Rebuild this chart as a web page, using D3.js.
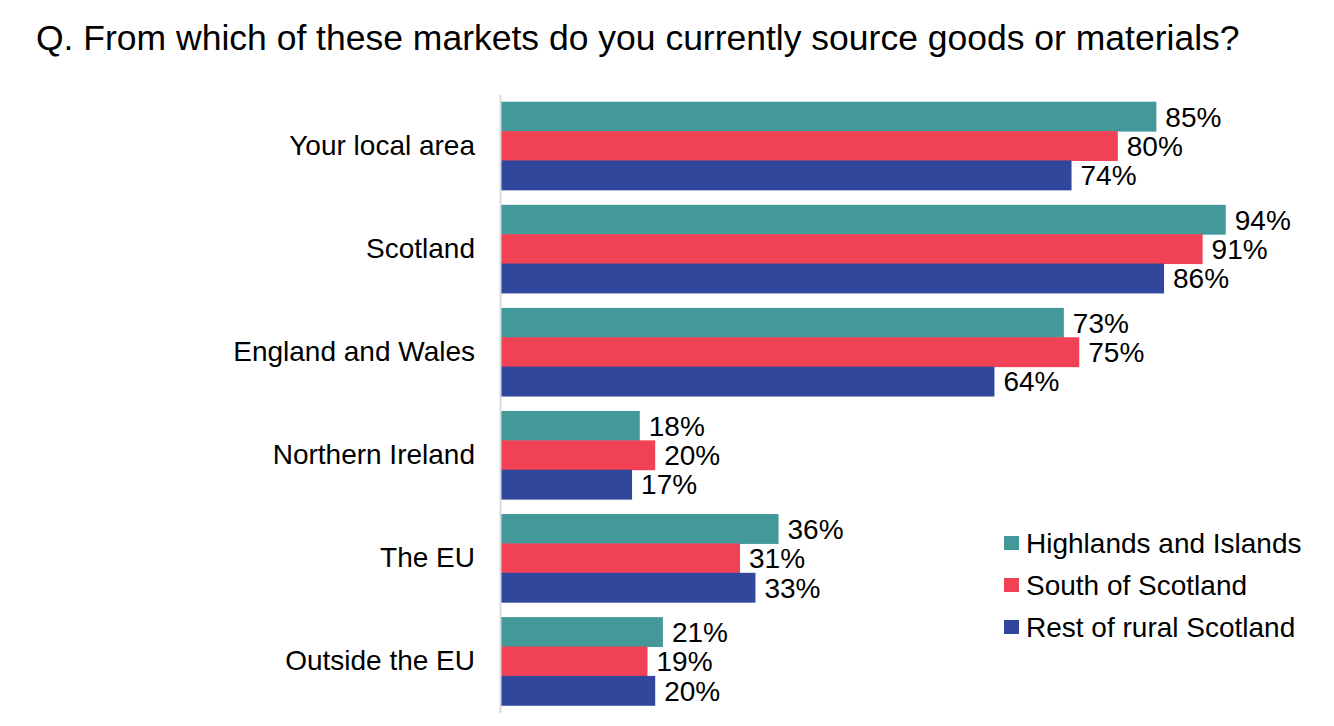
<html>
<head>
<script src="https://d3js.org/d3.v7.min.js"></script>
<style>
  body { margin: 0; background: #fff; }
  text { font-family: "Liberation Sans", Arial, sans-serif; fill: #000; }
</style>
</head>
<body>
<svg width="1334" height="726"></svg>
<script>
// chart data
const categories = ["Your local area", "Scotland", "England and Wales", "Northern Ireland", "The EU", "Outside the EU"];
const seriesNames = ["Highlands and Islands", "South of Scotland", "Rest of rural Scotland"];
const highlands = [85, 94, 73, 18, 36, 21];
const south = [80, 91, 75, 20, 31, 19];
const restRural = [74, 86, 64, 17, 33, 20];
const colours = ["#43999a", "#f04155", "#31479c"];

const seriesValues = [highlands, south, restRural];
const svg = d3.select("svg");

svg.append("text").attr("x", 36).attr("y", 50)
   .style("font-size", "35.5px")
   .text("Q. From which of these markets do you currently source goods or materials?");

const x = d3.scaleLinear().domain([0, 100]).range([501, 1272]);
const y = d3.scaleBand().domain(categories).range([94, 713]).paddingInner(0.145).paddingOuter(0.075);
const ySub = d3.scaleBand().domain(seriesNames).range([0, y.bandwidth()]);

// one group per category
const groups = svg.selectAll("g.cat").data(categories).enter().append("g")
   .attr("class", "cat")
   .attr("transform", d => `translate(0,${y(d)})`);

groups.each(function(cat, i) {
  const g = d3.select(this);
  seriesNames.forEach((s, j) => {
    const v = seriesValues[j][i];
    g.append("rect")
     .attr("x", x(0)).attr("y", ySub(s))
     .attr("width", x(v) - x(0)).attr("height", ySub.bandwidth() + 0.5)
     .attr("fill", colours[j]);
    g.append("text")
     .attr("x", x(v) + 9).attr("y", ySub(s) + ySub.bandwidth() / 2)
     .attr("dy", "0.36em")
     .style("font-size", "28px")
     .text(v + "%");
  });
});

// category axis
const yAxis = svg.append("g").attr("transform", "translate(500,0)")
   .call(d3.axisLeft(y).tickSize(0).tickPadding(25));
yAxis.select(".domain").attr("stroke", "#d9d9d9").attr("stroke-width", 2);
yAxis.selectAll("text").style("font-size", "28px")
   .style("font-family", "'Liberation Sans', Arial, sans-serif").attr("fill", "#000");

// legend
const legend = svg.append("g").attr("transform", "translate(1004,543)");
seriesNames.forEach((s, j) => {
  const row = legend.append("g").attr("transform", `translate(0,${j * 42})`);
  row.append("rect").attr("x", 0).attr("y", -7).attr("width", 15).attr("height", 14).attr("fill", colours[j]);
  row.append("text").attr("x", 22).attr("y", 0).attr("dy", "0.36em")
     .style("font-size", "28px").text(s);
});
</script>
</body>
</html>
